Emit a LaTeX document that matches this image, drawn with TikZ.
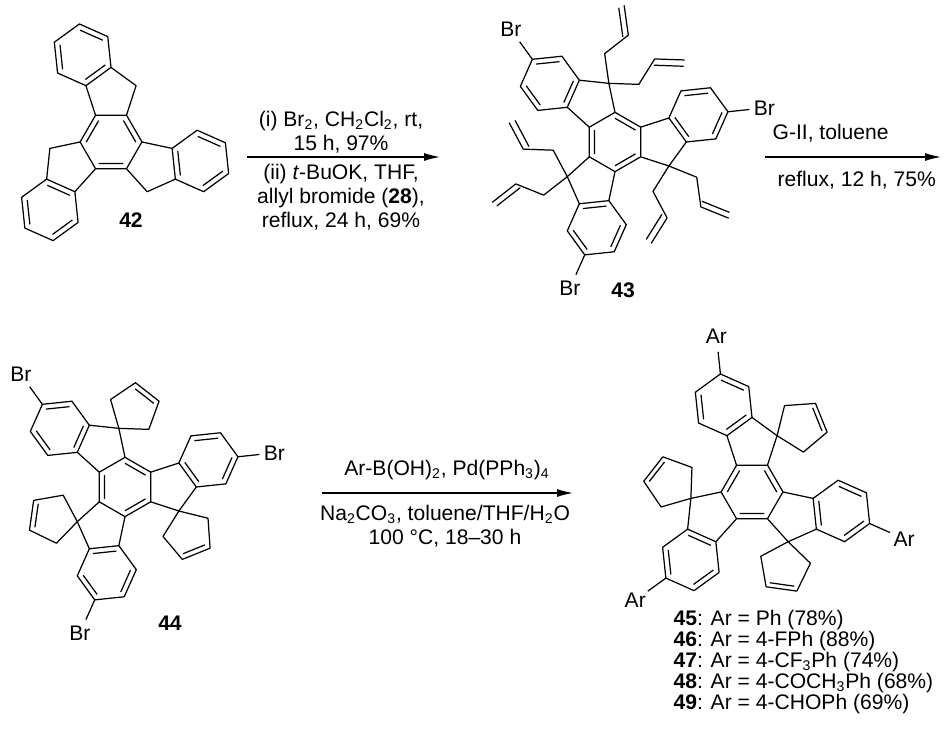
\documentclass[tikz,border=0pt]{standalone}
\usepackage{fontspec}
\setmainfont{Liberation Sans}
\usetikzlibrary{calc,arrows.meta}

% inner line of a double bond, pulled towards a ring centre
\newcommand{\dblin}[3]{\draw ($(#1)!0.2!(#3)$) -- ($(#2)!0.2!(#3)$);}
% substituents on the sp3 carbon of each arm
\newcommand{\subnone}{\relax}
\newcommand{\suballyl}{%
  \draw (C5) -- ++(68:1) -- ++(8:1) coordinate (D2) -- ++(68:1) coordinate (D3);
  \draw ($(D2)!0.18!90:(D3)$) -- ($(D3)!0.18!-90:(D2)$);
  \draw (C5) -- ++(-32:1) -- ++(28:1) coordinate (E2) -- ++(-32:1) coordinate (E3);
  \draw ($(E2)!0.18!-90:(E3)$) -- ($(E3)!0.18!90:(E2)$);}
\newcommand{\subspiro}{%
  \draw (C5) -- ++(76:1) coordinate (P1) -- ++(4:1) coordinate (P2)
    -- ++(-68:1) coordinate (P3) -- ++(-140:1) coordinate (P4) -- cycle;
  \coordinate (S) at (1.598,2.136);
  \dblin{P2}{P3}{S}}
% truxene core: centre, rotation, bond length, sp3 substituent, ring label
\newcommand{\truxene}[5]{%
  \begin{scope}[shift={#1}, rotate=#2, scale=#3]
    \foreach \r in {0,120,240}{
      \begin{scope}[rotate=\r]
        \coordinate (O) at (0,0);
        \coordinate (V0) at (1,0);
        \coordinate (V1) at (-0.5,0.866);
        \coordinate (V2) at (0.5,0.866);
        \coordinate (A1) at (-0.809,1.817);
        \coordinate (A2) at (0,2.405);
        \coordinate (C5) at (0.809,1.817);
        \coordinate (Q) at (-0.914,2.812);
        \coordinate (B1) at (-0.105,3.400);
        \coordinate (B2) at (-1.019,3.807);
        \coordinate (B3) at (-1.828,3.219);
        \coordinate (B4) at (-1.723,2.224);
        \draw (V0) -- (V2) -- (V1) -- (A1) -- (A2) -- (C5) -- (V2);
        \draw (A2) -- (B1) -- (B2) -- (B3) -- (B4) -- (A1);
        \dblin{V0}{V2}{O}
        \dblin{A1}{A2}{Q}
        \dblin{B1}{B2}{Q}
        \dblin{B3}{B4}{Q}
        #4
        \if\relax\detokenize{#5}\relax\else
          \draw (B2) -- ++(96:0.72) ++(96:0.5) node {#5};
        \fi
      \end{scope}}
  \end{scope}}

\tikzset{
  txt/.style={font=\fontsize{12}{13.6}\selectfont, inner sep=0pt, align=center},
  cpd/.style={font=\fontsize{12}{13}\bfseries, inner sep=0pt},
  rxn/.style={-{Latex[length=9pt,width=4.5pt]}, line width=0.7pt}
}

\begin{document}
\begin{tikzpicture}[x=0.02cm, y=0.02cm, line width=0.7pt, line join=round,
    every node/.style={font=\fontsize{12}{13.6}\selectfont, inner sep=0pt}]
  \useasboundingbox (0,0) rectangle (947,743);

  % first row
  \truxene{(111,601)}{0}{31}{\subnone}{}
  \node[cpd] (n42) at (131,523) {42};

  \coordinate (a1s) at (247,586);
  \coordinate (a1e) at (440,586);
  \draw[rxn] (a1s) -- (a1e);
  \node[txt] (c1a) at (341,611) {(i) Br\textsubscript{2}, CH\textsubscript{2}Cl\textsubscript{2}, rt,\\15 h, 97\%};
  \node[txt] (c1b) at (341,546) {(ii) \textit{t}-BuOK, THF,\\allyl bromide (\textbf{28}),\\reflux, 24 h, 69\%};

  \truxene{(615,601)}{30}{30}{\suballyl}{Br}
  \node[cpd] (n43) at (623,453) {43};

  \coordinate (a2s) at (765,586);
  \coordinate (a2e) at (941,586);
  \draw[rxn] (a2s) -- (a2e);
  \node[txt, anchor=west] (c2a) at (772,610) {G-II, toluene};
  \node[txt, anchor=west] (c2b) at (777,563) {reflux, 12 h, 75\%};

  % second row
  \truxene{(125,256)}{30}{30}{\subspiro}{Br}
  \node[cpd] (n44) at (170,120) {44};

  \coordinate (a3s) at (322,250);
  \coordinate (a3e) at (573,250);
  \draw[rxn] (a3s) -- (a3e);
  \node[txt] (c3a) at (447,273) {Ar-B(OH)\textsubscript{2}, Pd(PPh\textsubscript{3})\textsubscript{4}};
  \node[txt] (c3b) at (445,217) {Na\textsubscript{2}CO\textsubscript{3}, toluene/THF/H\textsubscript{2}O\\100 °C, 18–30 h};

  \truxene{(752,251)}{0}{31}{\subspiro}{Ar}
  \node[txt, anchor=west, align=left, font=\fontsize{12}{12}\selectfont] (list) at (673,81)
    {\textbf{45}: Ar = Ph (78\%)\\
     \textbf{46}: Ar = 4-FPh (88\%)\\
     \textbf{47}: Ar = 4-CF\textsubscript{3}Ph (74\%)\\
     \textbf{48}: Ar = 4-COCH\textsubscript{3}Ph (68\%)\\
     \textbf{49}: Ar = 4-CHOPh (69\%)};
\end{tikzpicture}
\end{document}
